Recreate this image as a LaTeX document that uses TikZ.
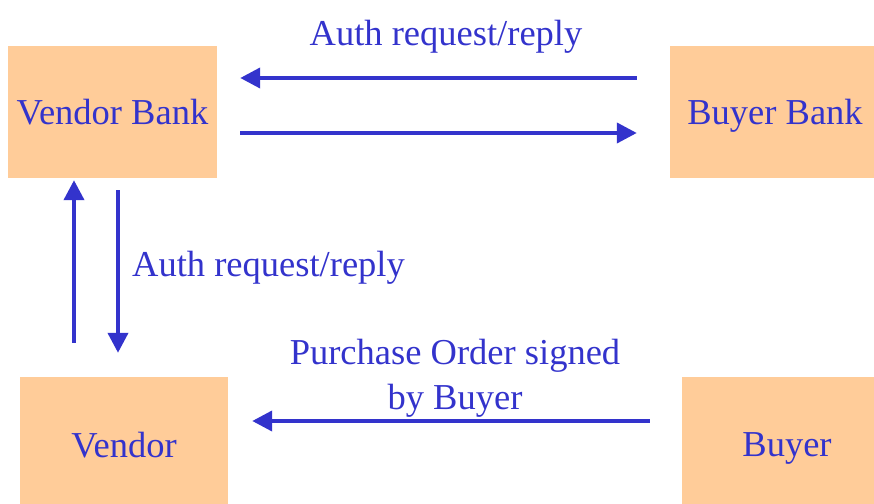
\documentclass[tikz,border=0pt]{standalone}
\usepackage{fontspec}
\setmainfont{Liberation Serif}
\usetikzlibrary{arrows.meta, positioning}
\definecolor{boxfill}{RGB}{255,204,153}
\definecolor{ink}{RGB}{51,51,204}

\begin{document}
\begin{tikzpicture}[x=1pt,y=1pt]
        \tikzstyle{box} = [rectangle, fill=boxfill, text=ink, inner sep=0pt, text depth=0pt, font=\fontsize{36.5}{45}\selectfont]
        \tikzstyle{lbl} = [text=ink, align=center, inner sep=0pt, font=\fontsize{36.5}{45}\selectfont]
        \tikzstyle{arrow} = [ink, line width=4pt, -{Triangle[length=20pt,width=20pt]}]

        \useasboundingbox (0,0) rectangle (874,503);

        \node (vbank) [box, minimum width=209pt, minimum height=132pt] at (112.5,391) {Vendor Bank};
        \node (bbank) [box, minimum width=210pt, minimum height=132pt] at (775,391) {Buyer Bank};
        \node (vendor) [box, minimum width=208pt, minimum height=136pt] at (124,58) {Vendor};
        \node (buyer) [box, minimum width=210pt, minimum height=136pt] at (787,58) {Buyer};

        \node (authtop) [lbl] at (446,466) {Auth request/reply};
        \node (authleft) [lbl, anchor=west] at (132,235) {Auth request/reply};
        \node (order) [lbl] at (455,124.5) {Purchase Order signed\\by Buyer};

        \draw [arrow, shorten <=33pt, shorten >=23pt] ([yshift=34pt]bbank.west) -- ([yshift=34pt]vbank.east);
        \draw [arrow, shorten <=23pt, shorten >=33pt] ([yshift=-21pt]vbank.east) -- ([yshift=-21pt]bbank.west);
        \draw [arrow, shorten <=34pt, shorten >=2pt] ([xshift=-50pt]vendor.north) -- ([xshift=-38.5pt]vbank.south);
        \draw [arrow, shorten <=12pt, shorten >=24pt] ([xshift=5.5pt]vbank.south) -- ([xshift=-6pt]vendor.north);
        \draw [arrow, shorten <=32pt, shorten >=24pt] ([yshift=24pt]buyer.west) -- ([yshift=24pt]vendor.east);
\end{tikzpicture}
\end{document}
